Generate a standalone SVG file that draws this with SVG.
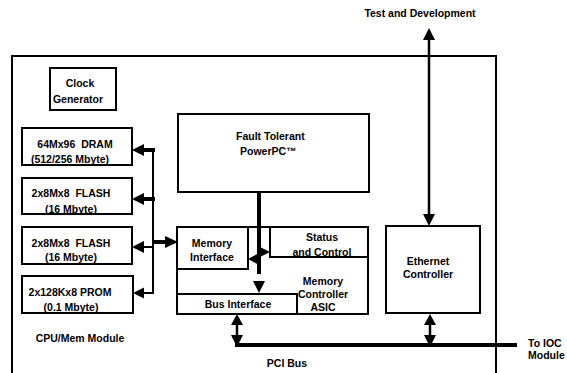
<svg xmlns="http://www.w3.org/2000/svg" width="567" height="373" viewBox="0 0 567 373">
<style>
.box{fill:#fff;stroke:#000;stroke-width:2}
.ln{fill:none;stroke:#000}
.t{font-family:"Liberation Sans",Arial,sans-serif;font-weight:bold;font-size:10.5px;fill:#000}
.c{text-anchor:middle}
.ah{fill:#000;stroke:none}
</style>
<rect width="567" height="373" fill="#fff"/>
<g id="module">
<path class="ln" stroke-width="2" d="M12,373 V56 H496 V373"/>
<text class="t c" x="80" y="342">CPU/Mem Module</text>
</g>
<g id="clock">
<rect class="box" x="50" y="68" width="66" height="42"/>
<text class="t c" x="80" y="87">Clock</text>
<text class="t c" x="78" y="103">Generator</text>
</g>
<g id="dram">
<rect class="box" x="22" y="128" width="110" height="37"/>
<text class="t c" x="75" y="148" xml:space="preserve">64Mx96  DRAM</text>
<text class="t c" x="70" y="163">(512/256 Mbyte)</text>
</g>
<g id="flash1">
<rect class="box" x="22" y="178" width="110" height="36"/>
<text class="t c" x="71" y="197" xml:space="preserve">2x8Mx8  FLASH</text>
<text class="t c" x="71" y="213">(16 Mbyte)</text>
</g>
<g id="flash2">
<rect class="box" x="22" y="227" width="110" height="37"/>
<text class="t c" x="71" y="247" xml:space="preserve">2x8Mx8  FLASH</text>
<text class="t c" x="71" y="261">(16 Mbyte)</text>
</g>
<g id="prom">
<rect class="box" x="22" y="276" width="111" height="37"/>
<text class="t c" x="70" y="296">2x128Kx8 PROM</text>
<text class="t c" x="71" y="311">(0.1 Mbyte)</text>
</g>
<g id="cpu">
<rect class="box" x="178" y="114" width="191" height="78"/>
<text class="t" x="236" y="140">Fault Tolerant</text>
<text class="t" x="240" y="155">PowerPC™</text>
</g>
<g id="asic">
<rect class="box" x="177" y="227" width="191" height="87"/>
<text class="t c" x="323" y="285">Memory</text>
<text class="t c" x="323" y="298">Controller</text>
<text class="t c" x="323" y="311">ASIC</text>
</g>
<g id="memif">
<rect class="box" x="177" y="227" width="71" height="42"/>
<text class="t c" x="212" y="247">Memory</text>
<text class="t c" x="212" y="261">Interface</text>
</g>
<g id="status">
<rect class="box" x="270" y="227" width="98" height="30"/>
<text class="t c" x="322" y="241">Status</text>
<text class="t c" x="322" y="256">and Control</text>
</g>
<g id="busif">
<rect class="box" x="177" y="294" width="120" height="20"/>
<text class="t c" x="238" y="308">Bus Interface</text>
</g>
<g id="ethernet">
<rect class="box" x="386" y="226" width="94" height="87"/>
<text class="t c" x="428" y="265">Ethernet</text>
<text class="t c" x="428" y="278">Controller</text>
</g>
<g id="labels">
<text class="t c" x="420" y="17">Test and Development</text>
<text class="t c" x="287" y="367">PCI Bus</text>
<text class="t" x="528" y="347">To IOC</text>
<text class="t" x="528" y="359">Module</text>
</g>
<g id="connectors">
<!-- memory bus -->
<path class="ln" stroke-width="2" d="M153,150 V293"/>
<path class="ln" stroke-width="4" d="M142,150 H155"/>
<path class="ln" stroke-width="4" d="M142,199 H155"/>
<path class="ln" stroke-width="2" d="M142,247 H154"/>
<path class="ln" stroke-width="2" d="M142,293 H154"/>
<path class="ah" d="M132,150 L144,144 L144,156 Z"/>
<path class="ah" d="M132,199 L144,193 L144,205 Z"/>
<path class="ah" d="M132,247 L144,241 L144,253 Z"/>
<path class="ah" d="M133,293 L144,287.5 L144,298.5 Z"/>
<path class="ln" stroke-width="4" d="M152,242 H167"/>
<path class="ah" d="M178,242 L165,236 L165,248 Z"/>
<!-- CPU to ASIC -->
<path class="ln" stroke-width="4" d="M259,192 V274"/>
<path class="ah" d="M259,293 L253,281 L265,281 Z"/>
<path class="ah" d="M270,252 L258,246 L258,258 Z"/>
<path class="ah" d="M248,259 L259,253 L259,265 Z"/>
<!-- PCI bus -->
<path class="ln" stroke-width="4" d="M235,345 H517"/>
<path class="ln" stroke-width="2.5" d="M237,322 V338"/>
<path class="ah" d="M237,314 L231,325 L243,325 Z"/>
<path class="ah" d="M237,347 L231,335 L243,335 Z"/>
<path class="ln" stroke-width="2.5" d="M430,322 V338"/>
<path class="ah" d="M430,314 L424,325 L436,325 Z"/>
<path class="ah" d="M430,347 L424,335 L436,335 Z"/>
<!-- Test and Development -->
<path class="ln" stroke-width="2.5" d="M429,38 V216"/>
<path class="ah" d="M429,28 L423,40 L435,40 Z"/>
<path class="ah" d="M429,226 L423,214 L435,214 Z"/>
</g>
</svg>
